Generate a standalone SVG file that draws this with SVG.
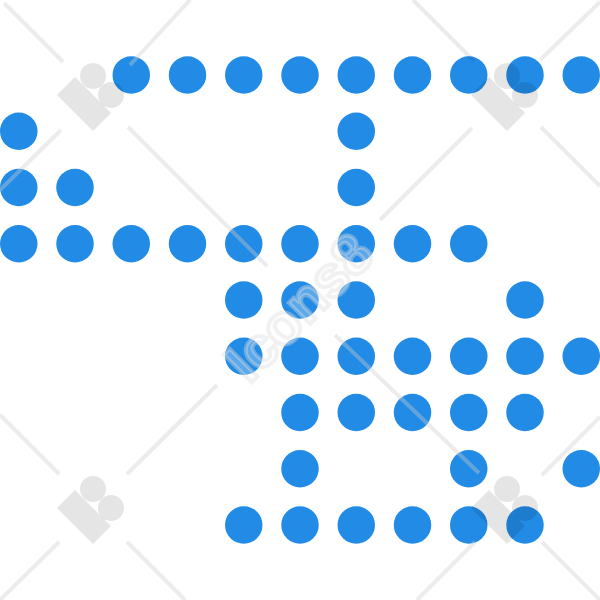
<svg xmlns="http://www.w3.org/2000/svg" width="600" height="600" viewBox="0 0 600 600">
<defs>
<g id="logo"><path class="lg" d="M57 95L75 77L111 113L93 131Z"/><circle class="lg" cx="93" cy="76" r="13"/><circle class="lg" cx="111" cy="95" r="13"/></g>
<circle id="d" r="18.75"/>
</defs>
<style>
#dots use{fill:#228be6}
.lg{fill:#000;fill-opacity:.1}
.wl{stroke:#ccc;stroke-opacity:.38;stroke-width:4;fill:none}
.wd{stroke:#000;stroke-opacity:.08;stroke-width:4;fill:none}
.wt{font-family:"Liberation Sans",Arial,sans-serif;font-weight:700;font-size:57px;fill:#fff;fill-opacity:.26;stroke:#ddd;stroke-opacity:.4;stroke-width:4}
</style>
<rect width="600" height="600" fill="#fff"/>
<g id="dots">
<use href="#d" x="131.25" y="75"/><use href="#d" x="187.5" y="75"/><use href="#d" x="243.75" y="75"/><use href="#d" x="300" y="75"/><use href="#d" x="356.25" y="75"/><use href="#d" x="412.5" y="75"/><use href="#d" x="468.75" y="75"/><use href="#d" x="525" y="75"/><use href="#d" x="581.25" y="75"/>
<use href="#d" x="18.75" y="131.25"/><use href="#d" x="356.25" y="131.25"/>
<use href="#d" x="18.75" y="187.5"/><use href="#d" x="75" y="187.5"/><use href="#d" x="356.25" y="187.5"/>
<use href="#d" x="18.75" y="243.75"/><use href="#d" x="75" y="243.75"/><use href="#d" x="131.25" y="243.75"/><use href="#d" x="187.5" y="243.75"/><use href="#d" x="243.75" y="243.75"/><use href="#d" x="300" y="243.75"/><use href="#d" x="356.25" y="243.75"/><use href="#d" x="412.5" y="243.75"/><use href="#d" x="468.75" y="243.75"/>
<use href="#d" x="243.75" y="300"/><use href="#d" x="300" y="300"/><use href="#d" x="356.25" y="300"/><use href="#d" x="525" y="300"/>
<use href="#d" x="243.75" y="356.25"/><use href="#d" x="300" y="356.25"/><use href="#d" x="356.25" y="356.25"/><use href="#d" x="412.5" y="356.25"/><use href="#d" x="468.75" y="356.25"/><use href="#d" x="525" y="356.25"/><use href="#d" x="581.25" y="356.25"/>
<use href="#d" x="300" y="412.5"/><use href="#d" x="356.25" y="412.5"/><use href="#d" x="412.5" y="412.5"/><use href="#d" x="468.75" y="412.5"/><use href="#d" x="525" y="412.5"/>
<use href="#d" x="300" y="468.75"/><use href="#d" x="468.75" y="468.75"/><use href="#d" x="581.25" y="468.75"/>
<use href="#d" x="243.75" y="525"/><use href="#d" x="300" y="525"/><use href="#d" x="356.25" y="525"/><use href="#d" x="412.5" y="525"/><use href="#d" x="468.75" y="525"/><use href="#d" x="525" y="525"/>
</g>
<g id="watermark">
<use href="#logo"/><use href="#logo" x="414"/><use href="#logo" y="413"/><use href="#logo" x="414" y="413"/>
<path class="wl" d="M4 3L63 62M130 65L190 0M61 130L0 190M128 127L267 266M380 220L472 128M540 60L600 2M541 127L600 186M0 415L59 474M127 474L217 385M59 542L0 600M127 542L185 600M335 335L479 473M542 475L600 417M542 542L600 600M475 542L417 600"/>
<path class="wd" d="M413 0L474 61"/>
<text class="wt" transform="translate(249 385) rotate(-45)">Icons8</text>
</g>
</svg>
